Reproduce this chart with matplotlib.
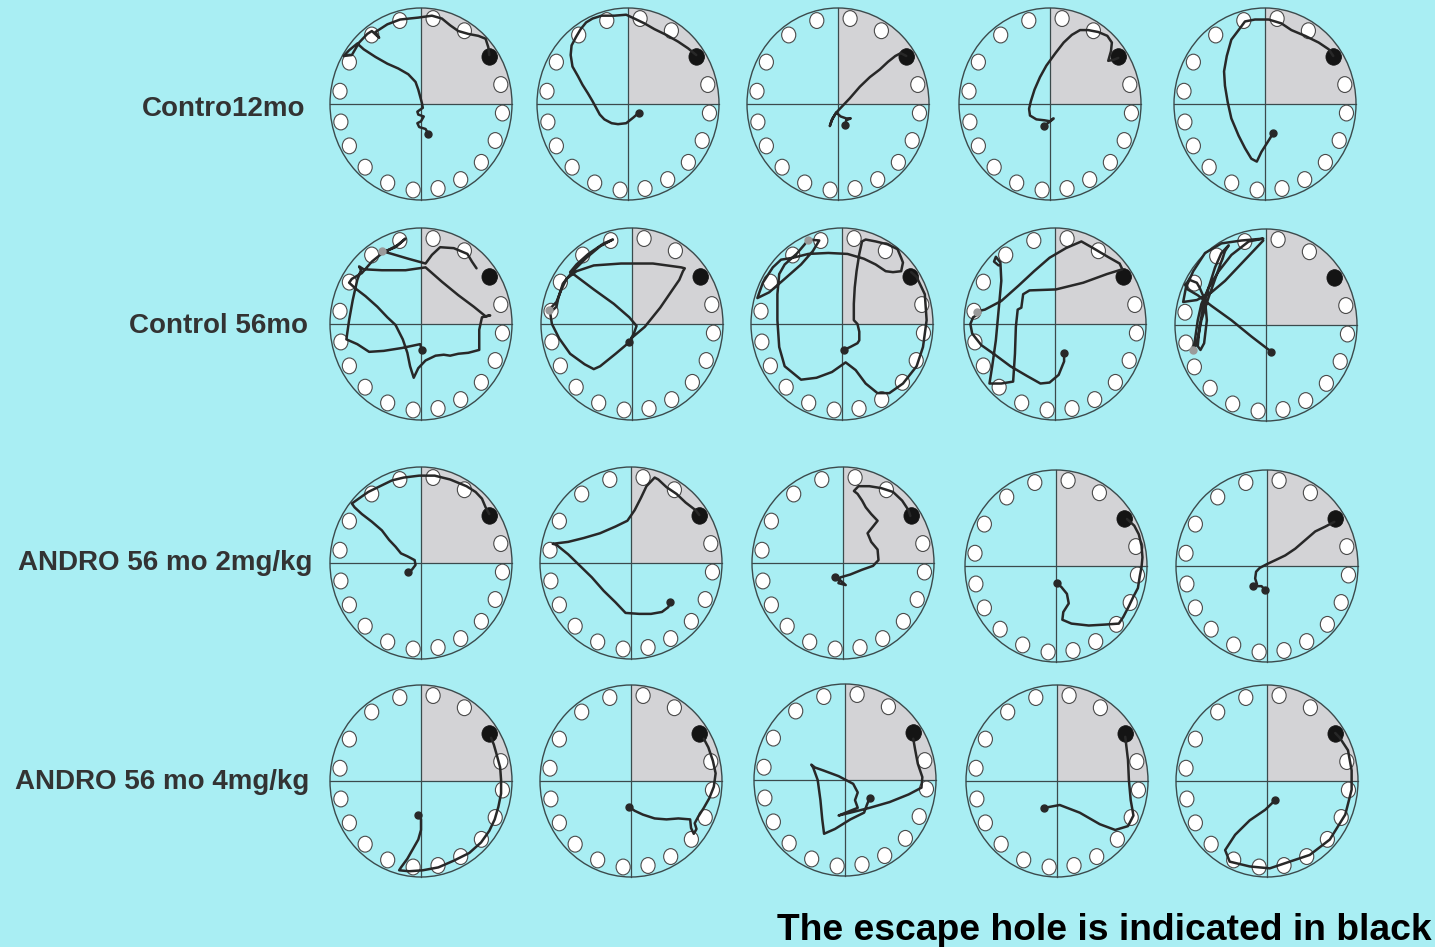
import numpy as np
import matplotlib
matplotlib.use("Agg")
import matplotlib.pyplot as plt
from matplotlib.patches import Circle, Wedge, Ellipse

# ---------------------------------------------------------------------------
# Figure / style settings
# ---------------------------------------------------------------------------
W, H, DPI = 1435, 947, 100
BG = "#a9eef3"
RIM = "#3b4a4c"
QUAD = "#d3d3d6"
TRACK = "#282828"

# ---------------------------------------------------------------------------
# Data: group labels, hole layout and swim/walk trajectories.
# Trajectory coordinates are in percent of the maze radius (centre = 0,0).
# The first point of each trajectory is the start position.
# ---------------------------------------------------------------------------
ROW_LABELS = ["Contro12mo", "Control 56mo", "ANDRO 56 mo 2mg/kg", "ANDRO 56 mo 4mg/kg"]
FOOTNOTE = "The escape hole is indicated in black"

HOLE_ANGLES = [105, 81.5, 58, 33, 13, -6, -25, -42.5, -61, -78, -95.5,
               -114, -133, -151, -168, 171.5, 151, 127]
ESCAPE_INDEX = 3

# Control 12 months
c12_1 = [(8, -31), (5, -26), (-2, -24), (-4, -20), (0, -18), (3, -13), (-3, -11), (-4, -8),
         (2, -4), (1, 1), (-1, 8), (-3, 15), (-6, 23), (-14, 31), (-25, 37), (-37, 42),
         (-50, 49), (-63, 57), (-70, 63), (-79, 56), (-85, 50), (-76, 51), (-68, 64),
         (-59, 73), (-54, 76), (-46, 69), (-50, 75), (-37, 83), (-23, 88), (-3, 90),
         (12, 92), (23, 89), (32, 82), (41, 76), (52, 73), (63, 71), (71, 68), (74, 59), (75, 51)]
c12_2 = [(12, -9), (6, -14), (-2, -20), (-11, -21), (-18, -20), (-26, -16), (-31, -11),
         (-35, -4), (-39, 3), (-44, 11), (-50, 20), (-55, 29), (-61, 39), (-63, 51),
         (-62, 61), (-57, 70), (-52, 78), (-46, 85), (-39, 89), (-29, 92), (-15, 92),
         (-2, 93), (7, 89), (18, 84), (29, 78), (42, 72), (55, 65), (66, 58), (75, 51)]
c12_3 = [(8, -22), (9, -17), (14, -15), (9, -15), (3, -13), (-2, -9), (-6, -15), (-9, -23),
         (-7, -17), (-2, -9), (4, -3), (13, 6), (24, 18), (35, 28), (46, 36), (55, 44),
         (63, 50), (69, 53), (75, 50)]
c12_4 = [(-7, -23), (-1, -19), (4, -15), (0, -18), (-6, -17), (-15, -16), (-22, -12),
         (-23, -5), (-21, 3), (-17, 15), (-11, 28), (-4, 40), (6, 53), (15, 64), (24, 72),
         (33, 77), (42, 77), (53, 75), (63, 71), (68, 64), (67, 55), (64, 45), (70, 46), (75, 48)]
c12_5 = [(9, -30), (6, -35), (2, -41), (-4, -50), (-9, -60), (-15, -57), (-22, -46),
         (-29, -33), (-37, -15), (-41, 2), (-44, 19), (-45, 34), (-42, 50), (-37, 67),
         (-29, 77), (-22, 86), (-11, 88), (4, 88), (18, 84), (29, 77), (44, 71), (59, 64),
         (70, 57), (75, 50)]

# Control 56 months
c56_1 = [(1, -27), (-1, -21), (-21, -25), (-41, -28), (-57, -29), (-70, -21), (-82, -16),
         (-79, 4), (-75, 25), (-70, 46), (-66, 56), (-68, 60), (-63, 57), (-43, 56),
         (-17, 56), (5, 59), (23, 44), (41, 30), (58, 18), (71, 8), (76, 9), (67, 7),
         (64, -6), (64, -27), (52, -30), (41, -31), (32, -33), (25, -32), (16, -33),
         (5, -38), (-3, -46), (-8, -56), (-12, -44), (-15, -30), (-20, -16), (-28, -1),
         (-37, 7), (-48, 18), (-61, 29), (-72, 37), (-79, 43), (-76, 47), (-65, 53),
         (-54, 65), (-41, 75), (-28, 80), (-17, 89), (-26, 82), (-36, 77), (-43, 76),
         (-32, 73), (-14, 68), (5, 63), (12, 72), (21, 80), (36, 79), (51, 73), (56, 65), (61, 58)]
c56_2 = [(-3, -19), (-18, -31), (-35, -44), (-42, -47), (-52, -42), (-68, -31), (-80, -15),
         (-88, 0), (-90, 12), (-83, 18), (-81, 27), (-76, 42), (-65, 55), (-50, 69),
         (-35, 81), (-21, 88), (-31, 84), (-48, 73), (-61, 62), (-68, 54), (-63, 51),
         (-42, 36), (-20, 21), (-3, 7), (5, -2), (2, -10), (-1, -15), (14, -3), (31, 17),
         (44, 35), (52, 46), (56, 55), (58, 58), (54, 59), (23, 63), (-12, 63), (-42, 61),
         (-61, 55), (-72, 47), (-78, 35), (-83, 23), (-91, 15)]
c56_3 = [(2, -27), (9, -24), (17, -20), (19, -17), (19, -8), (17, 0), (13, 4), (13, 21),
         (14, 38), (16, 55), (19, 73), (22, 86), (26, 88), (37, 86), (50, 83), (61, 78),
         (65, 69), (67, 64), (65, 55), (56, 54), (48, 55), (37, 62), (24, 68), (6, 73),
         (-15, 74), (-37, 73), (-54, 69), (-67, 67), (-76, 59), (-87, 43), (-93, 27),
         (-80, 33), (-63, 47), (-45, 62), (-32, 76), (-25, 87), (-37, 88), (-41, 83),
         (-50, 73), (-63, 62), (-69, 52), (-71, 31), (-71, 4), (-69, -24), (-63, -44),
         (-45, -58), (-28, -56), (-11, -50), (4, -40), (15, -48), (26, -62), (39, -72),
         (52, -72), (67, -62), (82, -44), (89, -24), (93, 4), (91, 31), (82, 49), (76, 54)]
c56_4 = [(10, -30), (10, -39), (4, -53), (-6, -61), (-16, -62), (-31, -54), (-49, -44),
         (-66, -32), (-81, -22), (-91, -10), (-93, 0), (-90, 7), (-83, 11), (-86, 13),
         (-77, 15), (-59, 24), (-40, 40), (-23, 55), (-6, 69), (12, 79), (29, 86), (42, 79),
         (58, 70), (71, 63), (74, 57), (57, 52), (31, 43), (1, 36), (-28, 35), (-35, 31),
         (-37, 17), (-41, 15), (-43, -3), (-44, -31), (-46, -60), (-59, -62), (-72, -62),
         (-69, -44), (-65, -17), (-62, 14), (-59, 45), (-60, 64), (-65, 70), (-67, 65), (-62, 61)]
c56_5 = [(6, -28), (-16, -12), (-38, 5), (-60, 20), (-75, 31), (-86, 37), (-89, 42),
         (-84, 47), (-76, 44), (-73, 39), (-67, 26), (-65, 5), (-68, -19), (-72, -26),
         (-75, -22), (-73, -2), (-69, 19), (-63, 39), (-56, 60), (-49, 75), (-41, 83),
         (-45, 77), (-54, 53), (-63, 29), (-71, 5), (-76, -19), (-80, -26), (-78, -15),
         (-75, 5), (-71, 22), (-63, 39), (-52, 56), (-38, 73), (-19, 87), (-3, 90),
         (-27, 88), (-49, 85), (-67, 75), (-80, 56), (-88, 39), (-91, 24), (-76, 26),
         (-60, 34), (-45, 46), (-30, 61), (-16, 75), (-3, 88)]

# ANDRO 56 months, 2 mg/kg
a2_1 = [(-14, -9), (-10, -7), (-6, -2), (-7, 3), (-15, 7), (-22, 10), (-28, 17), (-35, 24),
        (-43, 34), (-54, 43), (-65, 51), (-73, 58), (-76, 62), (-67, 68), (-58, 74),
        (-45, 80), (-32, 86), (-19, 89), (-2, 91), (15, 91), (32, 87), (50, 80), (60, 74),
        (67, 67), (71, 58), (75, 51)]
a2_2 = [(43, -41), (41, -46), (34, -51), (22, -53), (9, -53), (-6, -52), (-17, -41),
        (-30, -29), (-43, -15), (-56, -3), (-69, 9), (-82, 19), (-86, 20), (-69, 22),
        (-52, 26), (-34, 31), (-17, 38), (-4, 44), (4, 55), (11, 68), (17, 80), (26, 89),
        (30, 87), (39, 79), (50, 72), (60, 63), (71, 55), (75, 50)]
a2_3 = [(-9, -15), (-3, -18), (3, -23), (-5, -21), (-3, -15), (8, -12), (21, -7), (33, -3),
        (39, 3), (38, 14), (31, 22), (27, 31), (33, 38), (38, 44), (31, 51), (25, 58),
        (21, 65), (16, 72), (12, 75), (17, 80), (29, 80), (42, 78), (55, 74), (65, 65),
        (72, 55), (74, 49)]
a2_4 = [(1, -18), (6, -22), (12, -29), (14, -39), (8, -48), (7, -56), (17, -60), (36, -62),
        (54, -61), (69, -60), (74, -53), (80, -42), (85, -32), (90, -23), (92, -11),
        (94, -1), (95, 9), (94, 21), (91, 33), (86, 42), (78, 49)]
a2_5 = [(-2, -25), (-6, -21), (-11, -21), (-15, -21), (-11, -19), (-13, -13), (-12, -6),
        (-8, -2), (0, 2), (9, 6), (20, 11), (31, 18), (42, 27), (53, 36), (64, 41), (74, 46)]

# ANDRO 56 months, 4 mg/kg
a4_1 = [(-3, -35), (0, -40), (0, -51), (-3, -61), (-9, -71), (-15, -81), (-22, -90),
        (-24, -93), (-13, -94), (2, -93), (19, -90), (36, -83), (53, -75), (66, -64),
        (75, -52), (81, -40), (85, -27), (88, -13), (88, 1), (87, 14), (83, 28), (80, 38), (77, 45)]
a4_2 = [(-2, -27), (4, -31), (13, -35), (26, -39), (39, -40), (52, -39), (65, -40),
        (66, -49), (69, -55), (72, -50), (70, -44), (74, -37), (80, -28), (86, -18),
        (91, -6), (93, 8), (90, 21), (85, 35), (80, 44)]
a4_3 = [(27, -19), (24, -26), (21, -34), (6, -41), (-11, -51), (-23, -56), (-25, -41),
        (-27, -21), (-30, 0), (-35, 13), (-37, 16), (-33, 13), (-24, 10), (-7, 4), (9, -4),
        (14, -13), (11, -21), (14, -29), (6, -32), (-7, -37), (6, -34), (27, -29),
        (49, -23), (70, -15), (84, -8), (85, 3), (80, 17), (77, 32), (75, 43)]
a4_4 = [(-14, -28), (3, -25), (25, -33), (47, -45), (64, -51), (78, -47), (84, -36),
        (81, -20), (79, 1), (78, 22), (76, 38), (75, 46)]
a4_5 = [(9, -20), (-2, -30), (-19, -41), (-35, -56), (-46, -72), (-41, -84), (-19, -89),
        (3, -91), (25, -84), (47, -77), (69, -61), (86, -35), (93, -9), (93, 11), (89, 32),
        (80, 45), (75, 50)]

TRACKS = [
    [c12_1, c12_2, c12_3, c12_4, c12_5],
    [c56_1, c56_2, c56_3, c56_4, c56_5],
    [a2_1, a2_2, a2_3, a2_4, a2_5],
    [a4_1, a4_2, a4_3, a4_4, a4_5],
]

# Grey markers on the Control 56mo tracks (one per maze) and an extra stop point
GREY_MARKS = {(1, 0): (-43, 76), (1, 1): (-91, 15), (1, 2): (-37, 88),
              (1, 3): (-86, 13), (1, 4): (-80, -26)}
EXTRA_STOPS = {(2, 4): (-15, -21)}

# ---------------------------------------------------------------------------
# Layout (pixels, origin top-left)
# ---------------------------------------------------------------------------
RX, RY = 91.0, 96.0
CENTERS = [
    [(421, 104), (628, 104), (838, 104), (1050, 104), (1265, 104)],
    [(421, 324), (632, 324), (842, 324), (1055, 324), (1266, 325)],
    [(421, 563), (631, 563), (843, 563), (1056, 566), (1267, 566)],
    [(421, 781), (631, 781), (845, 780), (1057, 781), (1267, 781)],
]
LABEL_POS = [(224, 116), (218, 333), (165, 570), (162, 789)]
PAD = 1.1


def draw_maze(ax, track, grey=None, extra=None):
    ax.set_xlim(-PAD, PAD)
    ax.set_ylim(-PAD, PAD)
    ax.axis("off")
    ax.add_patch(Wedge((0, 0), 1.0, 0, 90, facecolor=QUAD, edgecolor="none", zorder=1))
    ax.plot([-1, 1], [0, 0], color=RIM, lw=0.9, zorder=2)
    ax.plot([0, 0], [-1, 1], color=RIM, lw=0.9, zorder=2)
    for i, a in enumerate(HOLE_ANGLES):
        t = np.deg2rad(a)
        x, y = 0.9 * np.cos(t), 0.9 * np.sin(t)
        if i == ESCAPE_INDEX:
            ax.add_patch(Ellipse((x, y), 0.17, 0.172, facecolor="#141414",
                                 edgecolor="#141414", lw=0.6, zorder=3))
        else:
            ax.add_patch(Ellipse((x, y), 0.155, 0.165, facecolor="white",
                                 edgecolor="#4a4a4a", lw=0.8, zorder=3))
    ax.add_patch(Circle((0, 0), 1.0, facecolor="none", edgecolor=RIM, lw=1.0, zorder=4))
    pts = np.array(track, dtype=float) / 100.0
    ax.plot(pts[:, 0], pts[:, 1], color=TRACK, lw=1.8, solid_joinstyle="round",
            solid_capstyle="round", zorder=5)
    ax.plot(pts[0, 0], pts[0, 1], "o", color=TRACK, ms=5, zorder=6)
    if grey is not None:
        ax.plot(grey[0] / 100, grey[1] / 100, "o", color="#9a9a9a", ms=5, zorder=6)
    if extra is not None:
        ax.plot(extra[0] / 100, extra[1] / 100, "o", color=TRACK, ms=5, zorder=6)


fig = plt.figure(figsize=(W / DPI, H / DPI), dpi=DPI, facecolor=BG)

for r, row in enumerate(TRACKS):
    for c, track in enumerate(row):
        cx, cy = CENTERS[r][c]
        left = (cx - PAD * RX) / W
        bottom = 1 - (cy + PAD * RY) / H
        ax = fig.add_axes([left, bottom, 2 * PAD * RX / W, 2 * PAD * RY / H])
        ax.set_facecolor("none")
        draw_maze(ax, track, GREY_MARKS.get((r, c)), EXTRA_STOPS.get((r, c)))

for label, (x, y) in zip(ROW_LABELS, LABEL_POS):
    fig.text(x / W, 1 - y / H, label, ha="center", va="baseline",
             family=["Liberation Sans", "DejaVu Sans"], fontweight="bold",
             fontsize=20, color="#333333")

fig.text(1432 / W, 1 - 940 / H, FOOTNOTE, ha="right", va="baseline",
         family=["Liberation Sans", "DejaVu Sans"], fontweight="bold",
         fontsize=26.8, color="black")

fig.savefig("out.png", dpi=DPI, facecolor=BG)
